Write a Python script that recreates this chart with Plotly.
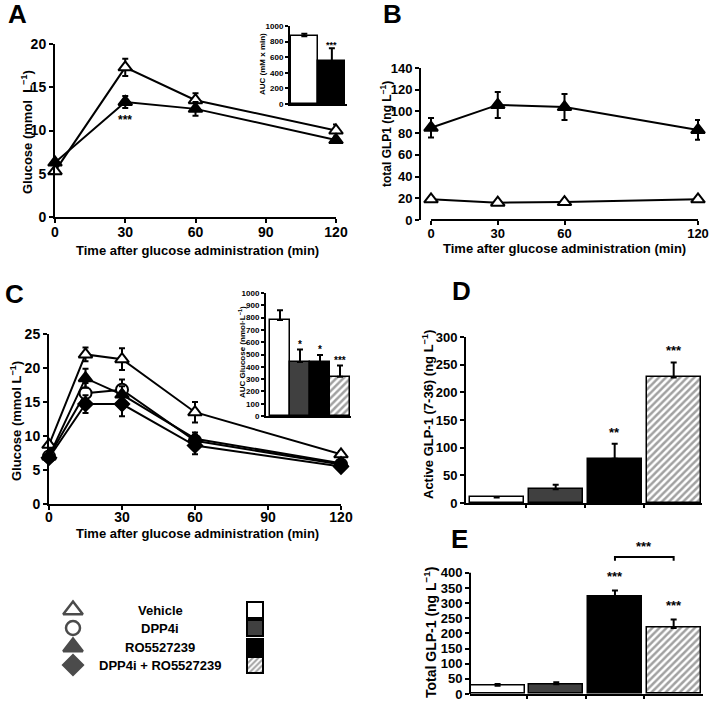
import plotly.graph_objects as go

W, H = 709, 701
FONT = "Liberation Sans"

# ---- Panel A: glucose excursion ----
time_a = [0, 30, 60, 120]
veh_a = [5.3, 17.3, 13.5, 10.0]
veh_a_err = [0.3, 1.0, 0.8, 0.7]
ro_a = [6.3, 13.3, 12.5, 8.9]
ro_a_err = [0.3, 0.7, 0.8, 0.3]
auc_a = [870, 550]
auc_a_err = [30, 165]
auc_a_sig = ["", "***"]

# ---- Panel B: total GLP1 ----
time_b = [0, 30, 60, 120]
glp1_veh_b = [19, 16, 16.5, 19]
glp1_veh_b_err = [1.5, 1.5, 1.5, 1.5]
glp1_ro_b = [85, 106, 104, 83]
glp1_ro_b_err = [9, 12, 12, 9]

# ---- Panel C: glucose, four groups ----
time_c = [0, 15, 30, 60, 120]
veh_c = [8.7, 22.0, 21.3, 13.5, 7.3]
veh_c_err = [0.6, 1.0, 1.6, 1.5, 0.5]
dpp_c = [7.0, 16.3, 16.8, 9.3, 5.8]
dpp_c_err = [0.5, 1.5, 1.5, 0.9, 0.4]
ro_c = [7.0, 18.5, 16.1, 9.6, 6.0]
ro_c_err = [0.5, 1.4, 1.2, 0.9, 0.4]
combo_c = [6.8, 14.7, 14.7, 8.6, 5.5]
combo_c_err = [0.5, 1.3, 1.8, 1.3, 0.4]

groups = ["Vehicle", "DPP4i", "RO5527239", "DPP4i + RO5527239"]
auc_c = [780, 440, 440, 320]
auc_c_err = [80, 100, 55, 90]
auc_c_sig = ["", "*", "*", "***"]

# ---- Panels D/E: GLP-1 bars ----
active_glp1 = [10, 25, 80, 227]
active_glp1_err = [1, 8, 27, 27]
active_sig = ["", "", "**", "***"]

total_glp1 = [27, 32, 320, 218]
total_glp1_err = [6, 7, 22, 28]
total_sig = ["", "", "***", "***"]

bar_colors = ["white", "#404040", "black", "white"]
bar_patterns = ["", "", "", "/"]
line_symbols = ["triangle-up", "circle", "triangle-up", "diamond"]
symbol_fill = ["white", "white", "black", "black"]


def xdom(p0, p1):
    return [p0 / W, p1 / W]


def ydom(top, bottom):
    return [1 - bottom / H, 1 - top / H]


def bold(size):
    return dict(family=FONT, size=size, color="black", weight="bold")


def axis_style(size=13, **kw):
    d = dict(showline=True, linecolor="black", linewidth=2, ticks="outside",
             ticklen=4, tickwidth=2, tickcolor="black", showgrid=False,
             zeroline=False, tickfont=bold(size), fixedrange=True,
             automargin=False, ticklabeloverflow="allow")
    d.update(kw)
    return d


def pattern(shapes, size=5):
    return dict(shape=shapes, fillmode="overlay", fgcolor="black",
                size=size, solidity=0.5)


fig = go.Figure()


def curve(x, y, err, i, xa, ya, size=12):
    fig.add_trace(go.Scatter(
        x=x, y=y, xaxis=xa, yaxis=ya, mode="lines+markers", cliponaxis=False,
        line=dict(color="black", width=2),
        marker=dict(symbol=line_symbols[i], size=size,
                    color=symbol_fill[i], line=dict(color="black", width=2)),
        error_y=dict(type="data", array=err, color="black", thickness=2, width=3),
        showlegend=False))


def bars(vals, errs, xa, ya, colors, shapes, lw=1.5, width=0.92):
    n = len(vals)
    fig.add_trace(go.Bar(
        x=list(range(n)), y=vals, xaxis=xa, yaxis=ya, width=width,
        marker=dict(color=colors, line=dict(color="black", width=lw),
                    pattern=pattern(shapes)),
        error_y=dict(type="data", array=errs, arrayminus=[0] * n,
                     symmetric=False, color="black", thickness=2, width=3),
        showlegend=False))


def stars(vals, errs, sig, xa, ya, size=12, shift=2):
    for i, (v, e, s) in enumerate(zip(vals, errs, sig)):
        if s:
            fig.add_annotation(x=i, y=v + e, xref=xa, yref=ya, text=s,
                               showarrow=False, yanchor="bottom", yshift=shift,
                               font=bold(size))


def paper_note(text, px, py, size, angle=0):
    fig.add_annotation(x=px / W, y=1 - py / H, xref="paper", yref="paper",
                       text=text, textangle=angle, showarrow=False,
                       xanchor="center", yanchor="middle", font=bold(size))


# Panel A
curve(time_a, veh_a, veh_a_err, 0, "x", "y")
curve(time_a, ro_a, ro_a_err, 2, "x", "y")
fig.add_annotation(x=30, y=11.2, xref="x", yref="y", text="***", showarrow=False,
                   font=bold(12))
bars(auc_a, auc_a_err, "x2", "y2", ["white", "black"], ["", ""], width=0.98)
stars(auc_a, auc_a_err, auc_a_sig, "x2", "y2", size=9, shift=-4)

# Panel B
curve(time_b, glp1_veh_b, glp1_veh_b_err, 0, "x3", "y3")
curve(time_b, glp1_ro_b, glp1_ro_b_err, 2, "x3", "y3")
fig.add_shape(type="line", xref="x3", yref="y3 domain", x0=0, x1=120, y0=0, y1=0,
              line=dict(color="black", width=2))

# Panel C
for i, (yv, ev) in enumerate([(veh_c, veh_c_err), (dpp_c, dpp_c_err),
                              (ro_c, ro_c_err), (combo_c, combo_c_err)]):
    curve(time_c, yv, ev, i, "x4", "y4", size=12 if i != 3 else 11)
bars(auc_c, auc_c_err, "x5", "y5", bar_colors, bar_patterns, width=0.98)
stars(auc_c, auc_c_err, auc_c_sig, "x5", "y5", size=10, shift=-2)

# Panel D
bars(active_glp1, active_glp1_err, "x6", "y6", bar_colors, bar_patterns)
stars(active_glp1, active_glp1_err, active_sig, "x6", "y6", size=13, shift=2)

# Panel E
bars(total_glp1, total_glp1_err, "x7", "y7", bar_colors, bar_patterns)
stars(total_glp1, total_glp1_err, total_sig, "x7", "y7", size=13, shift=4)
fig.add_shape(type="line", xref="x7 domain", yref="y7", x0=0, x1=0, y0=0, y1=400,
              line=dict(color="black", width=2))
fig.add_shape(type="path", xref="x7", yref="y7",
              path="M 2,440 L 2,452 L 3,452 L 3,440",
              line=dict(color="black", width=2))
fig.add_annotation(x=2.5, y=455, xref="x7", yref="y7", text="***", showarrow=False,
                   yanchor="bottom", font=bold(13))

# Legend block
leg_y = [610, 628, 647, 665]
fig.add_trace(go.Scatter(
    x=[73] * 4, y=leg_y, xaxis="x8", yaxis="y8", mode="markers",
    marker=dict(symbol=line_symbols, size=[17, 14, 17, 15], color=symbol_fill,
                line=dict(color="black", width=2.5)),
    showlegend=False))
fig.add_trace(go.Bar(
    x=[255] * 4, y=[16] * 4, base=[y - 8 for y in leg_y], xaxis="x8", yaxis="y8",
    width=16,
    marker=dict(color=bar_colors, line=dict(color="black", width=2),
                pattern=pattern(bar_patterns, size=4)),
    showlegend=False))
for g, y in zip(groups, leg_y):
    fig.add_annotation(x=160, y=y, xref="x8", yref="y8", text=g, showarrow=False,
                       font=bold(13))

# Panel letters
for letter, px, py in [("A", 17, 14), ("B", 392, 14), ("C", 14, 294),
                       ("D", 461, 291), ("E", 459, 539)]:
    paper_note(letter, px, py, 26)

# Axis titles
for t, px, py, ang, sz in [
    ("Time after glucose administration (min)", 197, 251, 0, 13),
    ("Time after glucose administration (min)", 564, 249, 0, 13),
    ("Time after glucose administration (min)", 197, 533, 0, 13),
    ("Glucose (mmol  L<sup>−1</sup>)", 27, 132, -90, 13),
    ("total GLP1 (ng L<sup>−1</sup>)", 386, 134, -90, 12),
    ("Glucose (mmol L<sup>−1</sup>)", 16, 421, -90, 13),
    ("Active GLP-1 (7-36) (ng L<sup>−1</sup>)", 428, 414, -90, 13),
    ("Total GLP-1 (ng L<sup>−1</sup>)", 430, 632, -90, 14),
    ("AUC (mM x min)", 262, 64, -90, 8),
    ("AUC Glucose (nmol·L<sup>−1</sup>)", 242, 352, -90, 8),
]:
    paper_note(t, px, py, sz, ang)

noticks = dict(showticklabels=False, ticks="")
close = dict(ticklabelstandoff=-3)
fig.update_layout(
    template="none",
    width=W, height=H, margin=dict(l=0, r=0, t=0, b=0, autoexpand=False),
    paper_bgcolor="white", plot_bgcolor="white", bargap=0,
    xaxis=axis_style(14, domain=xdom(55, 336), range=[0, 120],
                     tickvals=[0, 30, 60, 90, 120], anchor="y", **close),
    yaxis=axis_style(14, domain=ydom(44, 217), range=[0, 20],
                     tickvals=[0, 5, 10, 15, 20], anchor="x"),
    xaxis2=axis_style(domain=xdom(290, 347), range=[-0.52, 1.55], anchor="y2",
                      **noticks),
    yaxis2=axis_style(8, domain=ydom(26, 104), range=[0, 1000],
                      tickvals=list(range(0, 1001, 200)), anchor="x2", ticklen=3),
    xaxis3=axis_style(13, domain=xdom(421, 700), range=[-4.5, 120.9], showline=False,
                      tickvals=[0, 30, 60, 120], anchor="y3", **close),
    yaxis3=axis_style(13, domain=ydom(68, 220), range=[0, 140],
                      tickvals=list(range(0, 141, 20)), anchor="x3"),
    xaxis4=axis_style(14, domain=xdom(49, 341), range=[0, 120],
                      tickvals=[0, 30, 60, 90, 120], anchor="y4",
                      ticklabelstandoff=-5),
    yaxis4=axis_style(14, domain=ydom(334, 504), range=[0, 25],
                      tickvals=[0, 5, 10, 15, 20, 25], anchor="x4"),
    xaxis5=axis_style(domain=xdom(266, 351), range=[-0.7, 3.55], anchor="y5",
                      **noticks),
    yaxis5=axis_style(8, domain=ydom(293, 416), range=[0, 1000],
                      tickvals=list(range(0, 1001, 100)), anchor="x5", ticklen=3),
    xaxis6=axis_style(domain=xdom(466, 702), range=[-0.52, 3.48], anchor="y6",
                      tickvals=[0.5, 1.5, 2.5], showticklabels=False, ticklen=3),
    yaxis6=axis_style(13, domain=ydom(337, 503), range=[0, 300],
                      tickvals=list(range(0, 301, 50)), anchor="x6"),
    xaxis7=axis_style(domain=xdom(470, 703), range=[-0.47, 3.5], anchor="y7",
                      tickvals=[0.5, 1.5, 2.5], showticklabels=False, ticklen=3),
    yaxis7=axis_style(13, domain=ydom(548.6, 694), range=[0, 480], showline=False,
                      tickvals=list(range(0, 401, 50)), anchor="x7"),
    xaxis8=dict(domain=xdom(0, 360), range=[0, 360], visible=False, fixedrange=True),
    yaxis8=dict(domain=ydom(560, 701), range=[701, 560], visible=False,
                fixedrange=True, anchor="x8"),
)

# the default page keeps an 8 px body margin; drop it so the figure fills the window
fig.write_html("out.html", config={"displayModeBar": False},
               post_script="document.body.style.margin = '0';")
